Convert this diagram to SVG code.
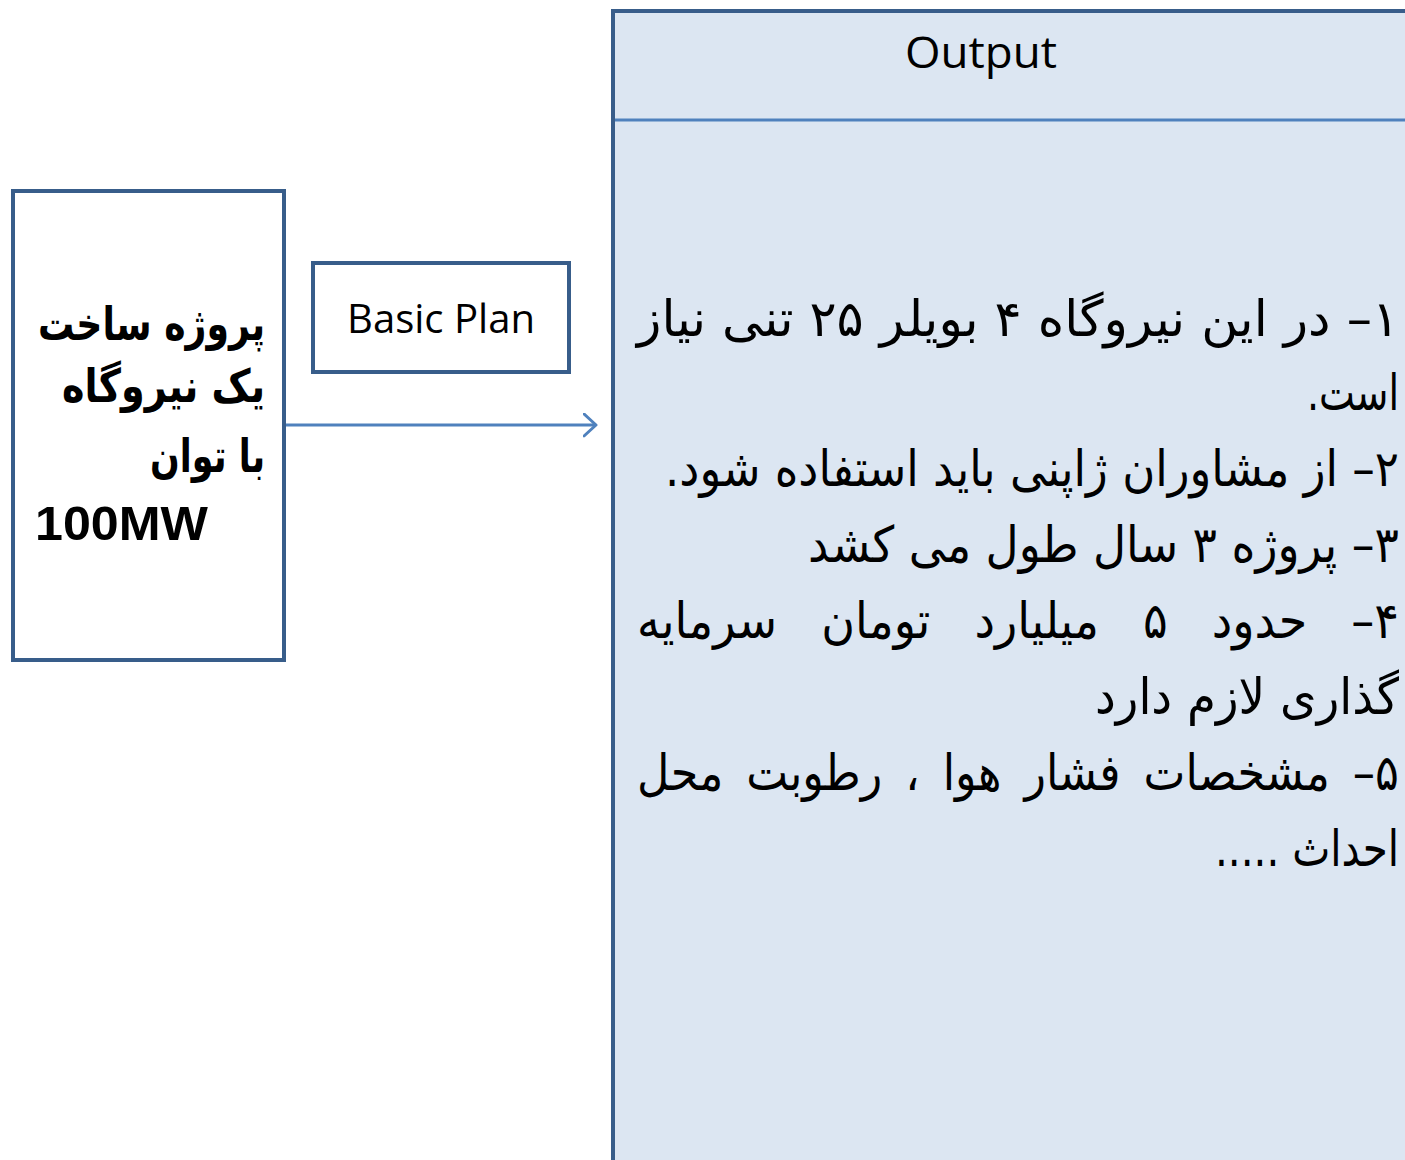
<svg xmlns="http://www.w3.org/2000/svg" width="1405" height="1160" viewBox="0 0 1405 1160">
<style>
.box{fill:#FFFFFF;stroke:#385D8A;stroke-width:4}
.panel{fill:#DCE6F2;stroke:#385D8A;stroke-width:4}
.div{stroke:#4F81BD;stroke-width:3}
.conn{fill:none;stroke:#4F81BD;stroke-width:3}
.lat{font-family:"Open Sans","Liberation Sans",sans-serif;fill:#000}
.fa{font-family:"DejaVu Sans",sans-serif;font-size:50px;fill:#000;text-anchor:end}
.fab{font-family:"DejaVu Sans",sans-serif;font-weight:bold;font-size:46px;fill:#000;text-anchor:end}
</style>
<defs>
<marker id="arr" markerUnits="userSpaceOnUse" markerWidth="20" markerHeight="30" refX="13" refY="12" orient="auto">
<path d="M1,1 L13,12 L1,23" fill="none" stroke="#4F81BD" stroke-width="3" stroke-linecap="round" stroke-linejoin="round"/>
</marker>
</defs>
<rect width="1405" height="1160" fill="#FFFFFF"/>
<g id="output">
<rect class="panel" x="613" y="11" width="820" height="1180"/>
<line class="div" x1="615" y1="120" x2="1405" y2="120"/>
<text class="lat" x="981" y="68" font-size="44" text-anchor="middle" textLength="152" lengthAdjust="spacingAndGlyphs">Output</text>
<text class="fa" x="1399" y="336" textLength="762" lengthAdjust="spacingAndGlyphs">&#x200F;۱– در این نیروگاه ۴ بویلر ۲۵ تنی نیاز&#x200F;</text>
<text class="fa" x="1399" y="410" textLength="92" lengthAdjust="spacingAndGlyphs">&#x200F;است.&#x200F;</text>
<text class="fa" x="1399" y="486" textLength="734" lengthAdjust="spacingAndGlyphs">&#x200F;۲– از مشاوران ژاپنی باید استفاده شود.&#x200F;</text>
<text class="fa" x="1399" y="562" textLength="591" lengthAdjust="spacingAndGlyphs">&#x200F;۳– پروژه ۳ سال طول می کشد&#x200F;</text>
<text class="fa" x="1399" y="638" word-spacing="32" textLength="762" lengthAdjust="spacingAndGlyphs">&#x200F;۴– حدود ۵ میلیارد تومان سرمایه&#x200F;</text>
<text class="fa" x="1399" y="714" textLength="304" lengthAdjust="spacingAndGlyphs">&#x200F;گذاری لازم دارد&#x200F;</text>
<text class="fa" x="1399" y="790" word-spacing="10" textLength="762" lengthAdjust="spacingAndGlyphs">&#x200F;۵– مشخصات فشار هوا ، رطوبت محل&#x200F;</text>
<text class="fa" x="1399" y="866" textLength="184" lengthAdjust="spacingAndGlyphs">&#x200F;احداث .....&#x200F;</text>
</g>
<g id="project">
<rect class="box" x="13" y="191" width="271" height="469"/>
<text class="fab" x="265" y="340" textLength="227" lengthAdjust="spacingAndGlyphs">پروژه ساخت</text>
<text class="fab" x="265" y="402" textLength="203" lengthAdjust="spacingAndGlyphs">یک نیروگاه</text>
<text class="fab" x="265" y="472" textLength="115" lengthAdjust="spacingAndGlyphs">با توان</text>
<text x="35" y="540" font-family="Liberation Sans, sans-serif" font-weight="bold" font-size="49" textLength="173" lengthAdjust="spacingAndGlyphs">100MW</text>
</g>
<g id="basicplan">
<rect class="box" x="313" y="263" width="256" height="109"/>
<text class="lat" x="441" y="333" font-size="40" text-anchor="middle" textLength="188" lengthAdjust="spacingAndGlyphs">Basic Plan</text>
</g>
<g id="connectors">
<line class="conn" x1="286" y1="425" x2="596" y2="425" marker-end="url(#arr)"/>
</g>
</svg>
